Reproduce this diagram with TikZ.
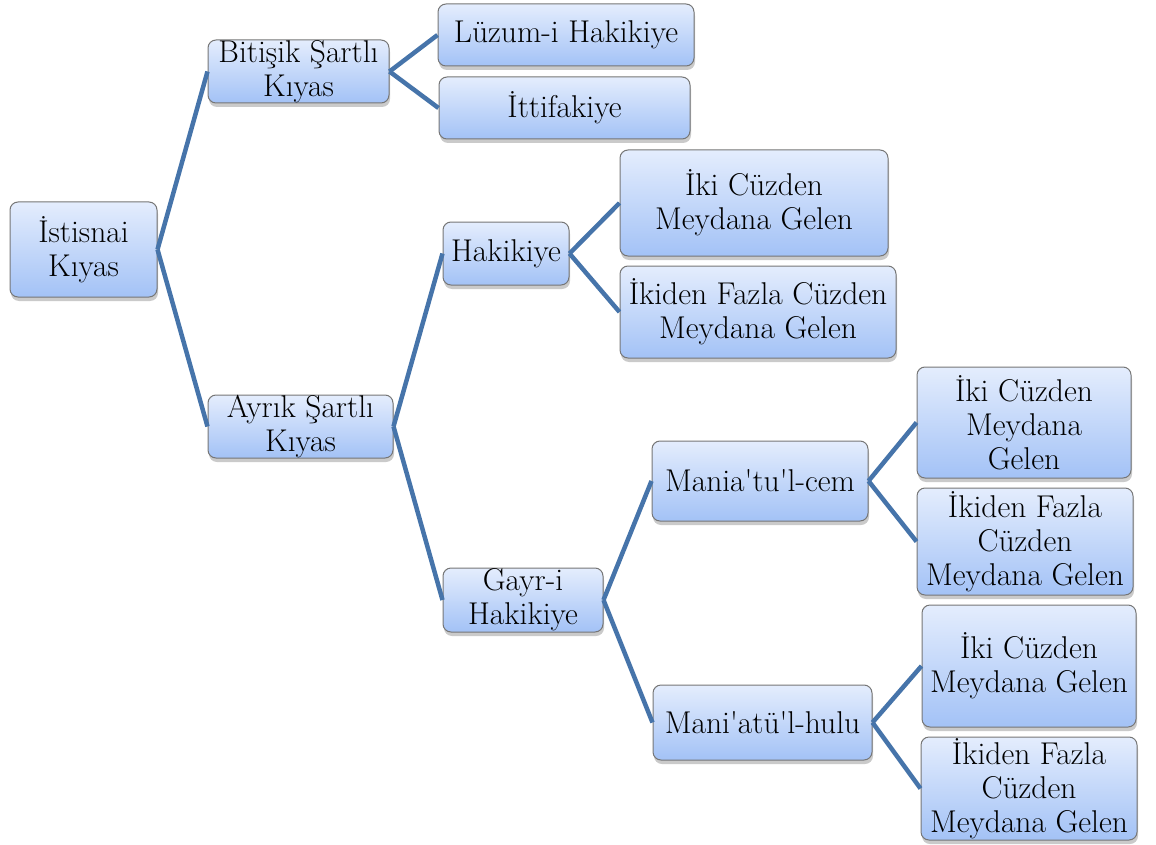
\documentclass[tikz,border=0pt]{standalone}
\usepackage{fontspec}
\usetikzlibrary{shadows}
\definecolor{linkblue}{RGB}{70,116,170}
\definecolor{boxtop}{RGB}{228,237,253}
\definecolor{boxbot}{RGB}{163,194,246}
\definecolor{boxline}{RGB}{118,118,118}
\tikzset{
  box/.style={draw=boxline, line width=1pt, rounded corners=8pt,
    top color=boxtop, bottom color=boxbot, align=center, inner sep=0pt,
    font=\rmfamily\fontsize{31.5}{34}\selectfont,
    drop shadow={shadow xshift=1pt, shadow yshift=-4pt, opacity=.35, fill=black!60}},
  link/.style={draw=linkblue, line width=4.5pt}
}
\newcommand{\ap}{\textquotesingle}
\begin{document}
\begin{tikzpicture}[x=1pt,y=-1pt]
\useasboundingbox (0,0) rectangle (1156,845);
\node[box, minimum width=147pt, minimum height=95pt] (ist) at (83.5,249.5){İstisnai\\Kıyas};
\node[box, minimum width=181pt, minimum height=63pt] (bit) at (298.5,71.5){Bitişik Şartlı\\Kıyas};
\node[box, minimum width=185pt, minimum height=63pt] (ayr) at (300.5,426.5){Ayrık Şartlı\\Kıyas};
\node[box, minimum width=256pt, minimum height=62pt] (luz) at (566,35){Lüzum-i Hakikiye};
\node[box, minimum width=251pt, minimum height=62pt] (itt) at (564.5,108){İttifakiye};
\node[box, minimum width=126pt, minimum height=63pt] (hak) at (506,253.5){Hakikiye};
\node[box, minimum width=160pt, minimum height=64pt] (gay) at (523,600){Gayr-i\\Hakikiye};
\node[box, minimum width=268pt, minimum height=106pt] (hiki) at (754,203){İki Cüzden\\Meydana Gelen};
\node[box, minimum width=276pt, minimum height=92pt] (hfaz) at (758,312){İkiden Fazla Cüzden\\Meydana Gelen};
\node[box, minimum width=216pt, minimum height=80pt] (mcem) at (760,481){Mania\ap tu\ap l-cem};
\node[box, minimum width=219pt, minimum height=75pt] (mhul) at (762.5,722.5){Mani\ap atü\ap l-hulu};
\node[box, minimum width=214pt, minimum height=111pt] (ciki) at (1024,422.5){İki Cüzden\\Meydana\\Gelen};
\node[box, minimum width=216pt, minimum height=107pt] (cfaz) at (1025,541.5){İkiden Fazla\\Cüzden\\Meydana Gelen};
\node[box, minimum width=214pt, minimum height=122pt] (uiki) at (1029,666){İki Cüzden\\Meydana Gelen};
\node[box, minimum width=216pt, minimum height=103pt] (ufaz) at (1029,788.5){İkiden Fazla\\Cüzden\\Meydana Gelen};
% connectors
\draw[link](ist.east) -- (bit.west);
\draw[link](ist.east) -- (ayr.west);
\draw[link](bit.east) -- (luz.west);
\draw[link](bit.east) -- (itt.west);
\draw[link](ayr.east) -- (hak.west);
\draw[link](ayr.east) -- (gay.west);
\draw[link](hak.east) -- (hiki.west);
\draw[link](hak.east) -- (hfaz.west);
\draw[link](gay.east) -- (mcem.west);
\draw[link](gay.east) -- (mhul.west);
\draw[link](mcem.east) -- (ciki.west);
\draw[link](mcem.east) -- (cfaz.west);
\draw[link](mhul.east) -- (uiki.west);
\draw[link](mhul.east) -- (ufaz.west);
\end{tikzpicture}
\end{document}
